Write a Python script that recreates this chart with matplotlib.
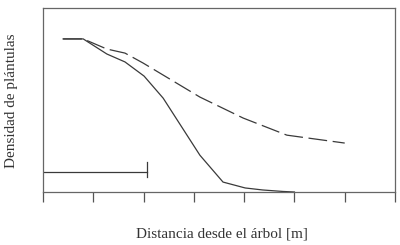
import matplotlib.pyplot as plt

# Datos (x en unidades de marca, y relativa 0-100)
x_solida = [0.4, 0.8, 1.27, 1.63, 2.01, 2.39, 3.12, 3.58, 4.02, 4.37, 4.77, 5.0]
y_solida = [83.2, 83.2, 75.0, 70.7, 63.0, 51.0, 20.0, 5.4, 2.2, 1.1, 0.3, 0.0]

x_discont = [0.4, 0.8, 1.27, 1.63, 1.99, 3.12, 3.98, 4.85, 6.0]
y_discont = [83.2, 83.2, 77.7, 75.5, 70.1, 51.6, 40.2, 30.9, 26.6]

barra_x = [0.0, 2.07]
barra_y = 10.9

ticks_x = [0, 1, 2, 3, 4, 5, 6, 7]

fig = plt.figure(figsize=(4, 2.45), dpi=100)
ax = fig.add_axes([0.1075, 0.2163, 0.88, 0.751])

color = "#3a3a3a"
ax.plot(x_solida, y_solida, color=color, lw=0.9)
ax.plot(x_discont, y_discont, color=color, lw=0.9, dashes=(15, 4.5))

# barra horizontal con marca final
ax.plot(barra_x, [barra_y, barra_y], color=color, lw=0.9)
ax.plot([barra_x[1], barra_x[1]], [barra_y - 3, barra_y + 5.5], color=color, lw=0.9)

ax.set_xlim(0, 7)
ax.set_ylim(0, 100)
ax.set_xticks(ticks_x)
ax.set_xticklabels([])
ax.set_yticks([])
ax.tick_params(axis="x", direction="out", length=7.5, width=0.9, color="#555555")
for s in ax.spines.values():
    s.set_color("#666666")
    s.set_linewidth(0.9)

fuente = dict(family=["Liberation Serif", "DejaVu Serif"], size=11, color="#333333")
fig.text(0.555, 0.045, "Distancia desde el árbol [m]", ha="center", va="center", **fuente)
fig.text(0.03, 0.59, "Densidad de plántulas", ha="center", va="center",
         rotation=90, **fuente)

fig.savefig("out.png", dpi=100)
